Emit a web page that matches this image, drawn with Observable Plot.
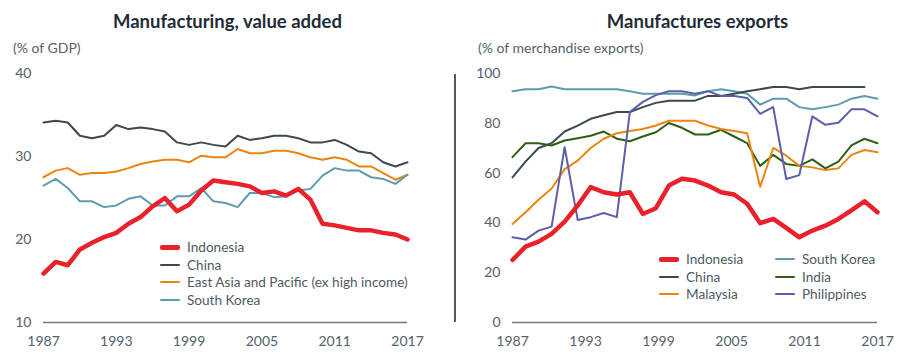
<!DOCTYPE html>
<html><head><meta charset="utf-8">
<script src="https://cdn.jsdelivr.net/npm/d3@7"></script>
<script src="https://cdn.jsdelivr.net/npm/@observablehq/plot@0.6"></script>
<style>
body{margin:0;background:#fff;}
#wrap{position:relative;width:904px;height:360px;font-family:Lato,"Open Sans",sans-serif;overflow:hidden;background:#fff}
.title{position:absolute;top:10px;line-height:22px;font-weight:700;font-size:18.5px;color:#1f2c38;text-align:center}
.sub{position:absolute;top:39px;line-height:18px;font-size:14px;color:#55606a}
.plot{position:absolute;top:60px}
.row{position:absolute;height:18px;display:flex;align-items:center;white-space:nowrap;font-size:13.6px;color:#4f5a64}
.sw{width:20px;margin-right:7px;border-radius:2px}
#divider{position:absolute;left:454px;top:74px;width:2px;height:248px;background:#4f5b65}
</style></head>
<body><div id="wrap">
<div class="title" style="left:0;width:455px">Manufacturing, value added</div>
<div class="sub" style="left:13px">(% of GDP)</div>
<div class="title" style="left:470px;width:455px">Manufactures exports</div>
<div class="sub" style="left:478px">(% of merchandise exports)</div>
<div id="divider"></div>
<div id="left" class="plot" style="left:0"></div>
<div id="right" class="plot" style="left:452px"></div>
</div>
<script>
// ---------- Left panel: Manufacturing, value added (% of GDP) ----------
const yearsVA = [1987,1988,1989,1990,1991,1992,1993,1994,1995,1996,1997,1998,1999,2000,2001,2002,2003,2004,2005,2006,2007,2008,2009,2010,2011,2012,2013,2014,2015,2016,2017];
const idnVA = [15.9,17.3,16.9,18.8,19.6,20.3,20.8,21.9,22.7,24.0,25.0,23.4,24.2,25.9,27.1,26.9,26.7,26.4,25.6,25.8,25.3,26.1,24.8,21.9,21.7,21.4,21.1,21.1,20.8,20.6,20.0];
const chnVA = [34.1,34.3,34.1,32.5,32.2,32.5,33.8,33.3,33.5,33.3,33.0,31.7,31.4,31.7,31.4,31.2,32.5,32.0,32.2,32.5,32.5,32.2,31.7,31.7,32.0,31.4,30.6,30.4,29.3,28.8,29.3];
const eapVA = [27.5,28.3,28.6,27.8,28.0,28.0,28.2,28.6,29.1,29.4,29.6,29.6,29.3,30.1,29.9,29.9,30.9,30.4,30.4,30.7,30.7,30.4,29.9,29.6,29.9,29.6,28.8,28.8,28.0,27.2,27.8];
const korVA = [26.5,27.3,26.2,24.6,24.6,23.9,24.1,24.9,25.2,24.1,24.1,25.2,25.2,26.2,24.6,24.4,23.9,25.6,25.6,25.1,25.2,25.9,26.1,27.7,28.6,28.3,28.3,27.5,27.3,26.7,27.8];
const yTicksVA = [10,20,30,40];

// ---------- Right panel: Manufactures exports (% of merchandise exports) ----------
const yearsEX = [1987,1988,1989,1990,1991,1992,1993,1994,1995,1996,1997,1998,1999,2000,2001,2002,2003,2004,2005,2006,2007,2008,2009,2010,2011,2012,2013,2014,2015];
const idnEX = [25.1,30.5,32.5,35.6,40.5,47.0,54.4,52.3,51.4,52.3,43.6,45.9,55.0,57.7,57.0,55.0,52.3,51.4,47.7,39.9,41.6,38.0,34.2,36.9,38.9,41.6,45.0,48.7,44.3];
const chnEX = [58.3,64.6,70.1,72.0,76.7,79.1,81.8,83.2,84.5,84.5,86.5,88.2,89.1,89.1,89.1,91.0,91.0,91.9,92.9,93.7,94.6,94.6,93.7,94.6,94.6,94.6,94.6,94.6];
const mysEX = [39.6,44.3,49.3,53.8,61.6,65.0,70.1,73.8,76.0,76.9,77.7,79.1,81.0,81.0,81.0,79.1,77.7,76.9,76.0,54.5,70.1,67.0,62.9,62.3,61.2,61.9,67.3,69.3,68.4];
const korEX = [92.9,93.7,93.7,94.8,93.7,93.7,93.7,93.7,93.7,92.9,91.9,91.9,91.9,91.9,91.2,92.9,93.7,92.9,91.9,87.5,89.9,89.9,86.5,85.6,86.5,87.5,89.9,91.0,89.9];
const indEX = [66.4,72.0,72.0,71.1,73.1,74.0,75.0,76.7,73.8,72.8,74.7,76.4,80.1,78.2,75.5,75.5,77.4,74.7,72.0,62.9,67.3,63.7,62.9,65.5,61.9,64.6,71.1,73.8,72.0];
const phlEX = [34.2,33.3,36.9,38.5,70.4,41.2,42.3,44.0,42.3,84.5,88.6,91.3,92.9,92.9,91.9,92.9,91.0,91.0,90.2,83.8,86.5,57.6,59.2,82.8,79.4,80.2,85.6,85.6,82.8];
const yTicksEX = [0,20,40,60,80,100];

// shared x tick labels (evenly spaced along each axis, as in the original)
const xTickLabels = ["1987","1993","1999","2005","2011","2017"];

const COLORS = {
  Indonesia: "#e8212b", China: "#3c4852", EAP: "#e9850f",
  "South Korea": "#5c9cb1", India: "#2f5f14", Philippines: "#5b5fa8", Malaysia: "#e9850f"
};

function series(name, years, vals, color, width) {
  return {name, color, width, data: vals.map((v, i) => ({x: years[i], y: v}))};
}

function evenTicks(domain) {
  const n = xTickLabels.length - 1;
  const pos = xTickLabels.map((_, k) => domain[0] + (domain[1] - domain[0]) * k / n);
  const fmt = new Map(pos.map((p, k) => [p, xTickLabels[k]]));
  return {pos, fmt};
}

function makePlot(el, opts) {
  const {xDomain, yDomain, yTicks, list, marginLeft, marginRight} = opts;
  const {pos, fmt} = evenTicks(xDomain);
  const marks = [
    Plot.ruleY([yDomain[0]], {stroke: "#6f7a83", strokeWidth: 1.5}),
    ...list.map(s => Plot.line(s.data, {x: "x", y: "y", stroke: s.color, strokeWidth: s.width, strokeLinejoin: "round", strokeLinecap: "round"})),
    Plot.axisX(pos, {tickSize: 0, tickPadding: 14, tickFormat: d => fmt.get(d), fontSize: 14, fill: "#55606a", label: null}),
    Plot.axisY(yTicks, {tickSize: 0, tickPadding: 12, fontSize: 14, fill: "#55606a", label: null})
  ];
  const p = Plot.plot({
    width: 452, height: 300,
    marginLeft, marginRight, marginTop: 13, marginBottom: 38,
    x: {domain: xDomain, axis: null},
    y: {domain: yDomain, axis: null},
    style: {fontFamily: "Lato, 'Open Sans', sans-serif", background: "transparent", overflow: "visible"},
    marks
  });
  document.getElementById(el).appendChild(p);
}

const leftList = [
  series("China", yearsVA, chnVA, COLORS.China, 2),
  series("East Asia and Pacific (ex high income)", yearsVA, eapVA, COLORS.EAP, 2),
  series("South Korea", yearsVA, korVA, COLORS["South Korea"], 2),
  series("Indonesia", yearsVA, idnVA, COLORS.Indonesia, 4.5)
];
makePlot("left", {xDomain: [yearsVA[0], yearsVA[yearsVA.length - 1]], yDomain: [10, 40], yTicks: yTicksVA, list: leftList, marginLeft: 43, marginRight: 45});

const rightList = [
  series("South Korea", yearsEX, korEX, COLORS["South Korea"], 2),
  series("China", yearsEX, chnEX, COLORS.China, 2),
  series("India", yearsEX, indEX, COLORS.India, 2),
  series("Malaysia", yearsEX, mysEX, COLORS.Malaysia, 2),
  series("Philippines", yearsEX, phlEX, COLORS.Philippines, 2),
  series("Indonesia", yearsEX, idnEX, COLORS.Indonesia, 4.5)
];
makePlot("right", {xDomain: [yearsEX[0], yearsEX[yearsEX.length - 1]], yDomain: [0, 100], yTicks: yTicksEX, list: rightList, marginLeft: 60, marginRight: 27});

// ---------- Legends ----------
const leftLegend = [
  ["Indonesia", COLORS.Indonesia, 5],
  ["China", COLORS.China, 2],
  ["East Asia and Pacific (ex high income)", COLORS.EAP, 2],
  ["South Korea", COLORS["South Korea"], 2]
];
const rightLegend = [
  ["Indonesia", COLORS.Indonesia, 5, 0, 0],
  ["China", COLORS.China, 2, 0, 1],
  ["Malaysia", COLORS.Malaysia, 2, 0, 2],
  ["South Korea", COLORS["South Korea"], 2, 1, 0],
  ["India", COLORS.India, 2, 1, 1],
  ["Philippines", COLORS.Philippines, 2, 1, 2]
];
const wrap = document.getElementById("wrap");
function addRow(label, color, w, left, top) {
  const r = document.createElement("div");
  r.className = "row";
  r.style.left = left + "px";
  r.style.top = top + "px";
  const sw = document.createElement("div");
  sw.className = "sw";
  sw.style.height = w + "px";
  sw.style.background = color;
  const t = document.createElement("span");
  t.textContent = label;
  r.appendChild(sw); r.appendChild(t);
  wrap.appendChild(r);
}
leftLegend.forEach(([l, c, w], i) => addRow(l, c, w, 160, 238 + i * 17.7));
rightLegend.forEach(([l, c, w, col, row]) => addRow(l, c, w, col ? 775 : 659, 250 + row * 17.7));
</script>
</body></html>
